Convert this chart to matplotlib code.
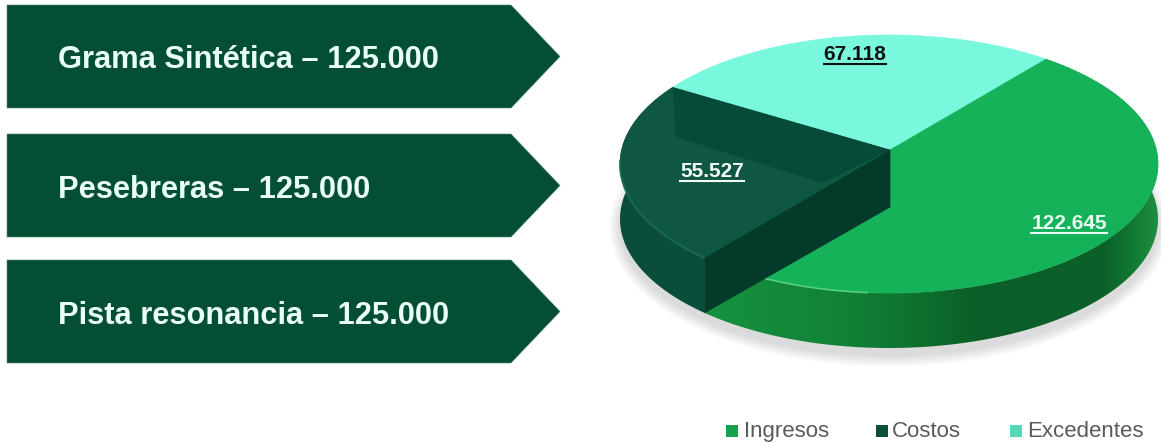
import numpy as np
import matplotlib
matplotlib.use('Agg')
import matplotlib.pyplot as plt
from matplotlib.colors import LinearSegmentedColormap
from matplotlib.patches import Ellipse, Polygon

# Data
arrow_names = ['Grama Sintética', 'Pesebreras', 'Pista resonancia']
arrow_values = ['125.000', '125.000', '125.000']
slice_names = ['Excedentes', 'Costos', 'Ingresos']
slice_values = [67118, 55527, 122645]
slice_labels = ['67.118', '55.527', '122.645']
legend_names = ['Ingresos', 'Costos', 'Excedentes']

plt.rcParams['font.family'] = ['Liberation Sans', 'DejaVu Sans']

# Pixel style canvas, y goes down like in the picture
fig = plt.figure(figsize=(11.61, 4.44), dpi=100)
ax = fig.add_axes([0, 0, 1, 1])
ax.set_xlim(0, 1161)
ax.set_ylim(444, 0)
ax.axis('off')

# Arrows on the left
arrow_tops = [5, 134, 260]
arrow_h = 103
for name, val, top in zip(arrow_names, arrow_values, arrow_tops):
    pts = [(7, top), (511, top), (560, top + arrow_h / 2), (511, top + arrow_h), (7, top + arrow_h)]
    ax.add_patch(Polygon(pts, closed=True, fc='#044f34', ec='#4f8a76', lw=0.4, zorder=2))
    ax.text(58, top + arrow_h / 2 + 4, f'{name} – {val}', color='#eafff6', fontsize=22.2,
            fontweight='bold', va='center', ha='left', zorder=3)

# Pie geometry
cx, cy = 889, 164      # centre of the top ellipse
rx, ry = 269, 129
ax0, ay0 = 890, 150    # where the slices meet
depth = 55
start = 50.5


def rim(theta):
    """Point on the ellipse along direction theta (deg) seen from the apex."""
    t = np.radians(theta)
    px, py = (ax0 - cx) / rx, (cy - ay0) / ry
    dx, dy = np.cos(t), np.sin(t)
    b = px * dx + py * dy
    c = px**2 + py**2 - 1
    s = -b + np.sqrt(b**2 - c)
    return np.column_stack((cx + rx * (px + s * dx), cy - ry * (py + s * dy)))


shares = np.array(slice_values) / np.sum(slice_values) * 360
edges = start + np.concatenate(([0], np.cumsum(shares)))
arcs = [rim(np.linspace(edges[i], edges[i + 1], 160)) for i in range(3)]
down = np.array([0, depth])

# Soft shadow
for grow, a in zip(np.linspace(22, 0, 12), np.full(12, 0.012)):
    ax.add_patch(Ellipse((cx, cy + depth + 8), 2 * rx + grow, 2 * ry + grow, fc='black', ec='none',
                         alpha=a, zorder=1))

# Sides
side_ing = np.vstack((arcs[2], (arcs[2] + down)[::-1]))
side_cos = np.vstack((arcs[1], (arcs[1] + down)[::-1]))
ax.add_patch(Polygon(side_cos, closed=True, fc='#0b4d3b', ec='none', zorder=3))

side_cmap = LinearSegmentedColormap.from_list('side', [(0, '#16923f'), (0.35, '#117f36'), (0.6, '#0c5e28'),
                                                       (0.88, '#0b6029'), (0.95, '#127a34'), (1, '#1e8f42')])
p_ing = Polygon(side_ing, closed=True, fc='none', ec='none', zorder=3)
ax.add_patch(p_ing)
grad = np.linspace(0, 1, 256).reshape(1, -1)
im = ax.imshow(grad, cmap=side_cmap, extent=(cx - rx + 85, cx + rx, 444, 0), aspect='auto', zorder=3)
im.set_clip_path(p_ing)
ax.set_xlim(0, 1161)
ax.set_ylim(444, 0)

# Tops
apex = np.array([[ax0, ay0]])
top_colors = ['#79f8dd', '#0f5643', '#15b25a']
for arc, col in zip(arcs, top_colors):
    ax.add_patch(Polygon(np.vstack((apex, arc)), closed=True, fc=col, ec=col, lw=0.5, zorder=4))

# Darker inner band on the Costos top
cos_start = arcs[1][0]
ax.add_patch(Polygon([(ax0, ay0), tuple(cos_start), (676, 137), (822, 183)], closed=True,
                     fc='#064a38', ec='none', zorder=5))

# Rim highlights
ax.plot(arcs[2][:32, 0], arcs[2][:32, 1], color='#6fdc8f', lw=1.2, alpha=0.7, zorder=5)
ax.plot(arcs[1][70:, 0], arcs[1][70:, 1], color='#1c6d58', lw=1.5, alpha=0.8, zorder=5)

# Cut face between Costos and Ingresos, drawn over the green top
p_end = arcs[1][-1]
ax.add_patch(Polygon([(ax0, ay0), (ax0, ay0 + depth + 2), tuple(p_end + down), tuple(p_end)], closed=True,
                     fc='#033a2a', ec='#033a2a', lw=0.5, zorder=6))

# Slice labels
label_pos = [(855, 54), (712, 171), (1069, 223)]
label_cols = ['#111111', '#f4fffa', '#eafff4']
label_sizes = [15, 15, 15]
fig.canvas.draw()
rend = fig.canvas.get_renderer()
for lab, (x, y), col, fs in zip(slice_labels, label_pos, label_cols, label_sizes):
    t = ax.text(x, y, lab, color=col, fontsize=fs, fontweight='bold', ha='center', va='center', zorder=8)
    w = t.get_window_extent(rend).width
    ax.plot([x - w / 2, x + w / 2], [y + 10, y + 10], color=col, lw=1.5, zorder=8)

# Legend
legend_cols = ['#15a04f', '#0c4d3c', '#55d8b8']
swatch_x = [726, 876, 1010]
text_x = [744, 892, 1027]
for name, col, sx, tx in zip(legend_names, legend_cols, swatch_x, text_x):
    ax.add_patch(Polygon([(sx, 425), (sx + 12, 425), (sx + 12, 437), (sx, 437)], closed=True, fc=col,
                         ec='none', zorder=3))
    ax.text(tx, 431, name, color='#5a5a5a', fontsize=16, va='center', ha='left')

fig.savefig('out.png', dpi=100, facecolor='white')
